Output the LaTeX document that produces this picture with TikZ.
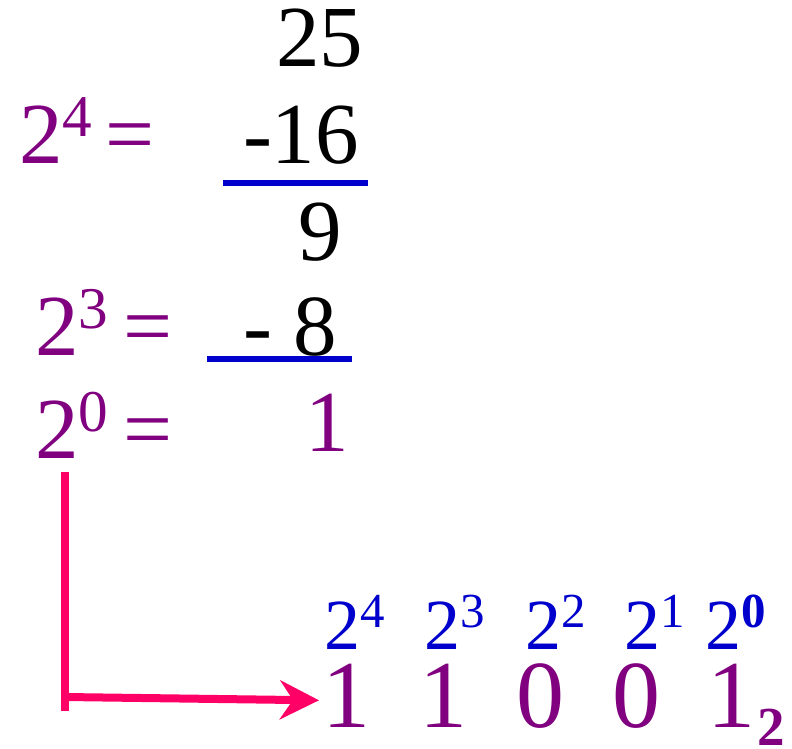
\documentclass[tikz,border=0pt]{standalone}
\usepackage{fontspec}
\setmainfont{Liberation Serif}
\usepackage{graphicx}
\definecolor{DeepPurple}{RGB}{128,0,128}
\definecolor{RuleBlue}{RGB}{0,0,204}
\definecolor{HotPink}{RGB}{255,0,102}
\usetikzlibrary{arrows.meta}
\newcommand{\pw}[2]{#1\raisebox{.3em}{\scalebox{.68}{#2}}}

\begin{document}
\begin{tikzpicture}[x=1pt, y=1pt,
	every node/.style={inner sep=0pt, outer sep=0pt, anchor=base west},
	big/.style={font=\fontsize{87}{90}\selectfont},
	pow/.style={big, DeepPurple},
	rul/.style={RuleBlue, line width=6pt},
	bitpow/.style={RuleBlue, font=\fontsize{72}{76}\selectfont},
	bit/.style={DeepPurple, font=\fontsize{96}{100}\selectfont}]
	\useasboundingbox (0,0) rectangle (792,-749);
	% subtraction column
	\node[big] (n25) at (276,-67) {25};
	\node[pow] (p4) at (19,-163) {\pw{2}{4}\kern13pt=};
	\node[big] (n16) at (243,-163) {-16};
	\draw[rul] (223,-183) -- (368,-183);
	\node[big] (n9) at (298,-260) {9};
	\node[pow] (p3) at (35,-355) {\pw{2}{3}\kern15pt=};
	\node[big] (n8) at (243,-355) {- 8};
	\draw[rul] (207,-359) -- (352,-359);
	\node[pow] (p0) at (35,-458) {\pw{2}{0}\kern15pt=};
	\node[pow] (n1) at (305,-451) {1};
	% binary result
	\foreach \x/\e [count=\i] in {324/4, 424/3, 525/2, 624/1, 705/{\bfseries 0}}
		\node[bitpow] (w\i) at (\x,-649) {\pw{2}{\e}};
	\foreach \x/\b [count=\i] in {322/1, 419/1, 516/0, 612/0, 707/1}
		\node[bit] (d\i) at (\x,-727) {\b};
	\node[DeepPurple, font=\fontsize{55}{58}\selectfont\bfseries] (base) at (757,-745) {2};
	% arrow
	\coordinate (top) at (65,-472);
	\coordinate (foot) at (65,-711);
	\coordinate (turn) at (65,-697);
	\draw[HotPink, line width=8pt] (top) -- (foot);
	\draw[HotPink, line width=8pt, -{Stealth[length=39pt, width=39pt, inset=13pt]}]
		(turn) -- ([shift={(-3pt,-5pt)}]d1.west);
\end{tikzpicture}
\end{document}
